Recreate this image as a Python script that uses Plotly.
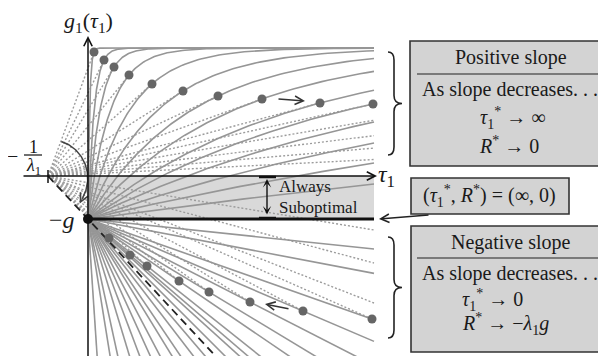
import numpy as np
import plotly.graph_objects as go

# ---------------- data (chart units; origin at the axes crossing) ----------------
g = 43.0                 # -g : start point of every gain curve
inv_lambda1 = 40.0       # -1/lambda1 on the tau axis
asymptote = 128.0        # level reached by the steepest positive-slope curve
tau_max = 286.0          # right end of the drawn curves

# positive-slope family: optimum points (dark dots)
pos_dot_tau = [6, 16, 26, 41, 64, 95, 130, 174, 232, 285]
pos_dot_g = [124, 116, 109, 101, 92, 85, 80, 77, 73, 72]
# positive-slope curves whose optimum lies beyond the chart: value at right edge
pos_extra_end = [54, 33, 13, -8]

# negative-slope family: optimum points (dark dots)
neg_dot_tau = [21, 42, 59, 91, 121, 162, 215, 284]
neg_dot_g = [-62, -79, -90, -105, -116, -126, -135, -143]
# further negative-slope lines without a visible optimum
neg_extra_slopes = [-15, -6.2, -4.6, -3.3, -2.65, -2.2, -1.9, -1.63, -1.48,
                    -1.3, -1.17, -1.0, -0.19, -0.105]
# dotted rate lines of the negative family ending at the right edge
neg_dotted_end = [-54, -87, -127]

# ---------------- derived curves ----------------
A = asymptote + g
pivot = -inv_lambda1
xs = np.unique(np.concatenate([[0.0], np.geomspace(1e-3, tau_max, 500), [tau_max]]))


def curve(k, x):
    return -g + A * (1 - np.exp(-x / k))


k_dots = [-x / np.log(1 - (y + g) / A) for x, y in zip(pos_dot_tau, pos_dot_g)]
k_extra = [-tau_max / np.log(1 - (y + g) / A) for y in pos_extra_end]

SOLID = "#969696"
DOTC = "#9c9c9c"

# upper solid curves
ux, uy = [], []
for k in k_dots + k_extra:
    ux += list(xs) + [None]
    uy += list(curve(k, xs)) + [None]

# upper dotted tangent lines from (-1/lambda1, 0)
dx, dy = [], []
for x, y in zip(pos_dot_tau, pos_dot_g):
    dx += [pivot, x, None]
    dy += [0, y, None]
far = np.linspace(0.1, 30000, 300000)
for k in k_extra:
    s = np.max(curve(k, far) / (far - pivot))
    dx += [pivot, tau_max, None]
    dy += [0, s * (tau_max - pivot), None]

# lower solid lines from (0,-g)
lx, ly = [], []
neg_dot_slopes = [(y + g) / x for x, y in zip(neg_dot_tau, neg_dot_g)]
for s in neg_extra_slopes + neg_dot_slopes:
    lx += [0, tau_max, None]
    ly += [-g, -g + s * tau_max, None]

# lower dotted lines from the pivot
ldx, ldy = [], []
for x, y in zip(neg_dot_tau, neg_dot_g):
    ldx += [pivot, x, None]
    ldy += [0, y, None]
for y in neg_dotted_end:
    ldx += [pivot, tau_max, None]
    ldy += [0, y, None]

fig = go.Figure()
fig.add_shape(type="rect", x0=0, x1=tau_max, y0=-g, y1=0,
              fillcolor="#d9d9d9", line_width=0, layer="below")

fig.add_trace(go.Scatter(x=dx, y=dy, mode="lines",
                         line=dict(color=DOTC, width=1.4, dash="2px,2px")))
fig.add_trace(go.Scatter(x=ldx, y=ldy, mode="lines",
                         line=dict(color=DOTC, width=1.4, dash="2px,2px")))
fig.add_trace(go.Scatter(x=ux, y=uy, mode="lines",
                         line=dict(color=SOLID, width=1.6)))
fig.add_trace(go.Scatter(x=lx, y=ly, mode="lines",
                         line=dict(color=SOLID, width=1.6)))
# limiting dashed line through (-1/lambda1,0) and (0,-g)
fig.add_trace(go.Scatter(x=[pivot, 220], y=[0, -g / inv_lambda1 * (220 - pivot)],
                         mode="lines", line=dict(color="#222", width=1.8, dash="8px,5px")))
# optimum dots
fig.add_trace(go.Scatter(x=pos_dot_tau + neg_dot_tau, y=pos_dot_g + neg_dot_g,
                         mode="markers", marker=dict(color="#666", size=9)))
# arc near the pivot
ang = np.radians(np.linspace(69, -34, 80))
rad = np.linspace(37, 41, 80)
fig.add_trace(go.Scatter(x=pivot + rad * np.cos(ang), y=rad * np.sin(ang), mode="lines",
                         line=dict(color="#444", width=1.5)))
ae = np.radians(-41)
fig.add_annotation(x=pivot + 42 * np.cos(ae), y=42 * np.sin(ae),
                   ax=pivot + 41 * np.cos(ang[-1]), ay=41 * np.sin(ang[-1]),
                   axref="x", ayref="y", text="", showarrow=True, arrowhead=5,
                   arrowsize=1.2, arrowwidth=1.4, arrowcolor="#444", standoff=0)

# thick -g line and start dot
fig.add_shape(type="line", x0=0, x1=tau_max, y0=-g, y1=-g, line=dict(color="#111", width=3))
fig.add_trace(go.Scatter(x=[0], y=[-g], mode="markers", marker=dict(color="#111", size=10)))

# axes
fig.add_annotation(x=289, y=0, ax=-66, ay=0, axref="x", ayref="y", text="", showarrow=True,
                   arrowhead=5, arrowsize=1.1, arrowwidth=1.5, arrowcolor="#111", standoff=0)
fig.add_annotation(x=0, y=140, ax=0, ay=-190, axref="x", ayref="y", text="", showarrow=True,
                   arrowhead=5, arrowsize=1.1, arrowwidth=1.5, arrowcolor="#111", standoff=0)
fig.add_shape(type="line", x0=pivot, x1=pivot, y0=-7, y1=6, line=dict(color="#111", width=1.5))

# "Always Suboptimal" marker
for yy in (-1, -42):
    fig.add_shape(type="line", x0=171, x1=188, y0=yy, y1=yy, line=dict(color="#111", width=2.5))
fig.add_annotation(x=179, y=-3, ax=179, ay=-40, axref="x", ayref="y", text="", showarrow=True,
                   arrowhead=3, arrowside="end+start", arrowsize=1.0, arrowwidth=1.4,
                   arrowcolor="#111", standoff=0, startstandoff=0)

# small direction arrows
fig.add_annotation(x=217, y=75, ax=189, ay=77, axref="x", ayref="y", text="", showarrow=True,
                   arrowhead=5, arrowsize=1.1, arrowwidth=1.5, arrowcolor="#333", standoff=0)
fig.add_annotation(x=177, y=-128, ax=202, ay=-133, axref="x", ayref="y", text="", showarrow=True,
                   arrowhead=5, arrowsize=1.1, arrowwidth=1.5, arrowcolor="#333", standoff=0)

# boxes
BOXF = "#d3d3d3"
BOXL = dict(color="#333", width=1.6)
fig.add_shape(type="rect", x0=322, x1=517, y0=10, y1=135, fillcolor=BOXF, line=BOXL)
fig.add_shape(type="line", x0=329, x1=517, y0=102, y1=102, line=dict(color="#222", width=1.2))
fig.add_shape(type="rect", x0=323, x1=481, y0=-38, y1=-2, fillcolor=BOXF, line=BOXL)
fig.add_shape(type="rect", x0=323, x1=517, y0=-176, y1=-50, fillcolor=BOXF, line=BOXL)
fig.add_shape(type="line", x0=329, x1=517, y0=-82, y1=-82, line=dict(color="#222", width=1.2))
fig.add_annotation(x=291, y=-43, ax=342, ay=-39, axref="x", ayref="y", text="", showarrow=True,
                   arrowhead=5, arrowsize=1.1, arrowwidth=1.5, arrowcolor="#222", standoff=0)

# braces
def brace(ytop, ybot):
    ym = (ytop + ybot) / 2
    return (f"M 300,{ytop} Q 306,{ytop} 306,{ytop-8} L 306,{ym+8} Q 306,{ym} 314,{ym} "
            f"Q 306,{ym} 306,{ym-8} L 306,{ybot+8} Q 306,{ybot} 300,{ybot}")

fig.add_shape(type="path", path=brace(124, 21), line=dict(color="#222", width=1.6))
fig.add_shape(type="path", path=brace(-61, -162), line=dict(color="#222", width=1.6))

SERIF = "Liberation Serif, Times New Roman, serif"


def txt(x, y, t, size=20, xanchor="center"):
    fig.add_annotation(x=x, y=y, text=t, showarrow=False, xanchor=xanchor, yanchor="middle",
                       font=dict(family=SERIF, size=size, color="#1a1a1a"))


txt(0, 154, "<i>g</i><sub>1</sub>(<i>τ</i><sub>1</sub>)", 22)
txt(298, 0, "<i>τ</i><sub>1</sub>", 24)
txt(-26, -44, "−<i>g</i>", 24)
txt(-76, 20, "−", 20)
txt(-55, 29, "1", 18)
fig.add_shape(type="line", x0=-64, x1=-46, y0=21, y1=21, line=dict(color="#111", width=1.2))
txt(-55, 10, "<i>λ</i><sub>1</sub>", 18)
txt(189, -10, "Always", 17, "left")
txt(189, -31, "Suboptimal", 17, "left")

txt(423, 119, "Positive slope")
txt(422, 87, "As slope decreases. . .")
txt(390, 58, "<i>τ</i><sub>1</sub><sup>*</sup> → ∞", 20, "left")
txt(389, 31, "<i>R</i><sup>*</sup> → 0", 20, "left")
txt(401, -20, "(<i>τ</i><sub>1</sub><sup>*</sup>, <i>R</i><sup>*</sup>) = (∞, 0)")
txt(423, -66, "Negative slope")
txt(422, -97, "As slope decreases. . .")
txt(372, -124, "<i>τ</i><sub>1</sub><sup>*</sup> → 0", 20, "left")
txt(372, -148, "<i>R</i><sup>*</sup> → −<i>λ</i><sub>1</sub><i>g</i>", 20, "left")

# the page body has an 8px margin: shift the data window so marks land at the
# reference's pixel positions
fig.update_layout(
    width=606, height=356, autosize=False,
    margin=dict(l=0, r=0, t=0, b=0),
    paper_bgcolor="white", plot_bgcolor="white",
    showlegend=False,
    xaxis=dict(range=[-80, 526], visible=False, fixedrange=True),
    yaxis=dict(range=[-188, 168], visible=False, fixedrange=True),
)
fig.write_html("out.html")
